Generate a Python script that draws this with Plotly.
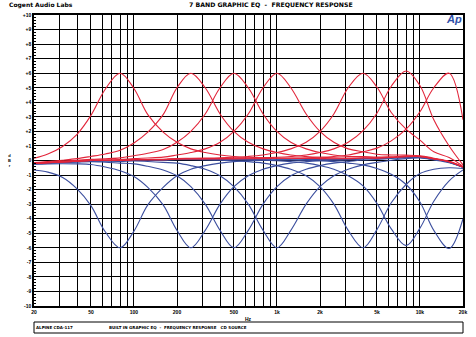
import plotly.graph_objects as go

# 1/3-octave frequency points (Hz)
freqs = [20, 25, 31.5, 40, 50, 63, 80, 100, 125, 160, 200, 250, 315, 400, 500, 630,
         800, 1000, 1250, 1600, 2000, 2500, 3150, 4000, 5000, 6300, 8000, 10000,
         12500, 16000, 20000]

# Band boost responses (dBr), one list per EQ band
boost_80 = [0.15, 0.45, 0.95, 1.8, 3.1, 4.9, 6.0, 4.95, 3.15, 1.95, 1.25, 0.8, 0.55, 0.38, 0.28, 0.22,
            0.18, 0.16, 0.15, 0.14, 0.13, 0.12, 0.12, 0.17, 0.16, 0.21, 0.26, 0.26, 0.11, -0.09, -0.45]
boost_250 = [-0.14, -0.07, 0.02, 0.13, 0.28, 0.45, 0.7, 1.2, 1.95, 3.15, 5.0, 6.0, 5.0, 3.2, 2.0, 1.25,
             0.8, 0.55, 0.38, 0.28, 0.22, 0.18, 0.16, 0.19, 0.18, 0.22, 0.27, 0.27, 0.12, -0.09, -0.45]
boost_500 = [-0.17, -0.11, -0.05, 0.01, 0.08, 0.12, 0.18, 0.33, 0.5, 0.75, 1.25, 2.0, 3.2, 5.0, 6.0, 5.0,
             3.2, 2.0, 1.25, 0.8, 0.55, 0.38, 0.28, 0.27, 0.23, 0.26, 0.3, 0.29, 0.13, -0.08, -0.45]
boost_1k = [-0.18, -0.13, -0.08, -0.02, 0.04, 0.05, 0.06, 0.13, 0.17, 0.23, 0.38, 0.55, 0.8, 1.25, 2.0, 3.2,
            5.0, 6.0, 5.0, 3.2, 2.0, 1.25, 0.8, 0.6, 0.43, 0.38, 0.37, 0.33, 0.16, -0.05, -0.43]
boost_4k = [-0.2, -0.15, -0.1, -0.05, 0.01, 0.01, 0.01, 0.07, 0.07, 0.08, 0.14, 0.15, 0.16, 0.18, 0.22, 0.28,
            0.38, 0.55, 0.8, 1.25, 2.0, 3.2, 5.0, 6.0, 5.05, 3.3, 2.15, 1.4, 0.6, 0.2, -0.4]
boost_8k = [-0.2, -0.15, -0.1, -0.05, 0.0, 0.0, 0.0, 0.05, 0.05, 0.06, 0.11, 0.12, 0.13, 0.14, 0.15, 0.16,
            0.18, 0.22, 0.28, 0.38, 0.55, 0.8, 1.25, 2.05, 3.25, 5.1, 6.15, 5.15, 2.8, 1.0, -0.3]
boost_16k = [-0.2, -0.15, -0.1, -0.05, 0.0, 0.0, 0.0, 0.05, 0.05, 0.05, 0.1, 0.1, 0.1, 0.11, 0.11, 0.12,
             0.13, 0.15, 0.16, 0.18, 0.22, 0.28, 0.38, 0.6, 0.85, 1.35, 2.15, 3.35, 5.0, 6.0, 2.8]

# Band cut responses (dBr)
cut_80 = [-0.65, -0.8, -1.15, -1.95, -3.1, -4.9, -6.0, -4.85, -3.05, -1.85, -1.05, -0.6, -0.35, -0.18, -0.08, -0.02,
          0.02, 0.04, 0.05, 0.06, 0.07, 0.08, 0.08, 0.13, 0.14, 0.19, 0.24, 0.24, 0.09, -0.11, -0.46]
cut_250 = [-0.26, -0.23, -0.22, -0.23, -0.28, -0.45, -0.7, -1.1, -1.85, -3.05, -4.8, -6.0, -4.8, -3.0, -1.8, -1.05,
           -0.6, -0.35, -0.18, -0.08, -0.02, 0.02, 0.04, 0.11, 0.12, 0.18, 0.23, 0.24, 0.09, -0.11, -0.46]
cut_500 = [-0.23, -0.19, -0.15, -0.11, -0.08, -0.12, -0.18, -0.23, -0.4, -0.65, -1.05, -1.8, -3.0, -4.8, -6.0, -4.8,
           -3.0, -1.8, -1.05, -0.6, -0.35, -0.18, -0.08, 0.03, 0.07, 0.14, 0.2, 0.21, 0.07, -0.12, -0.46]
cut_1k = [-0.22, -0.17, -0.12, -0.08, -0.04, -0.05, -0.06, -0.03, -0.07, -0.13, -0.18, -0.35, -0.6, -1.05, -1.8, -3.0,
          -4.8, -6.0, -4.8, -3.0, -1.8, -1.05, -0.6, -0.3, -0.13, 0.02, 0.13, 0.17, 0.04, -0.15, -0.47]
cut_4k = [-0.2, -0.15, -0.1, -0.05, -0.01, -0.01, -0.01, 0.03, 0.03, 0.02, 0.06, 0.05, 0.04, 0.02, -0.02, -0.08,
          -0.18, -0.35, -0.6, -1.05, -1.8, -3.0, -4.8, -6.0, -4.75, -2.9, -1.65, -0.9, -0.6, -0.5, -0.55]
cut_8k = [-0.2, -0.15, -0.1, -0.05, 0.0, 0.0, 0.0, 0.05, 0.05, 0.04, 0.08, 0.08, 0.07, 0.06, 0.05, 0.04,
          0.02, -0.02, -0.08, -0.18, -0.35, -0.6, -1.05, -1.75, -2.95, -4.7, -5.85, -4.65, -2.8, -1.4, -0.65]
cut_16k = [-0.2, -0.15, -0.1, -0.05, 0.0, 0.0, 0.0, 0.05, 0.05, 0.05, 0.1, 0.1, 0.1, 0.09, 0.09, 0.08,
           0.07, 0.05, 0.04, 0.02, -0.02, -0.08, -0.18, -0.3, -0.55, -0.95, -1.65, -2.85, -4.8, -6.05, -4.0]

boost_curves = [boost_80, boost_250, boost_500, boost_1k, boost_4k, boost_8k, boost_16k]
cut_curves = [cut_80, cut_250, cut_500, cut_1k, cut_4k, cut_8k, cut_16k]

# Axis ticks
x_grid = [20, 30, 40, 50, 60, 70, 80, 90, 100, 200, 300, 400, 500, 600, 700, 800, 900,
          1000, 2000, 3000, 4000, 5000, 6000, 7000, 8000, 9000, 10000, 20000]
x_labels = {20: "20", 50: "50", 100: "100", 200: "200", 500: "500", 1000: "1k",
            2000: "2k", 5000: "5k", 10000: "10k", 20000: "20k"}
y_ticks = list(range(-10, 11))
y_labels = [("+%d" % v if v > 0 else str(v)) for v in y_ticks]

RED = "#e2253a"
BLUE = "#3b4e9e"
FONT = "Liberation Sans"
HEAD = "DejaVu Sans"

fig = go.Figure()
for ys in cut_curves:
    fig.add_trace(go.Scatter(x=freqs, y=ys, mode="lines",
                             line=dict(color=BLUE, width=1.1, shape="spline", smoothing=1.0),
                             hoverinfo="skip"))
for ys in boost_curves:
    fig.add_trace(go.Scatter(x=freqs, y=ys, mode="lines",
                             line=dict(color=RED, width=1.1, shape="spline", smoothing=1.0),
                             hoverinfo="skip"))

fig.update_layout(
    width=476, height=337,
    margin=dict(l=34, r=9, t=15, b=31),
    paper_bgcolor="white", plot_bgcolor="white",
    showlegend=False,
    font=dict(family=FONT, color="black", size=5),
)

fig.update_xaxes(
    type="log", range=[1.30103, 4.30103],
    tickvals=x_grid, ticktext=["<b>%s</b>" % x_labels.get(v, "") for v in x_grid],
    showgrid=True, gridcolor="black", gridwidth=1.2,
    showline=True, linecolor="black", linewidth=1.5, mirror=True,
    ticks="", tickfont=dict(family=FONT, size=5, color="black"),
    zeroline=False,
)
fig.update_yaxes(
    range=[-10, 10],
    tickvals=y_ticks, ticktext=["<b>%s</b>" % t for t in y_labels],
    showgrid=True, gridcolor="black", gridwidth=1.2,
    showline=True, linecolor="black", linewidth=1.5, mirror=True,
    ticks="inside", ticklen=4, tickcolor="black",
    minor=dict(dtick=0.2, ticks="inside", ticklen=2.5, tickcolor="black", showgrid=False),
    tickfont=dict(family=FONT, size=5, color="black"),
    zeroline=False,
)

ann = dict(xref="paper", yref="paper", showarrow=False, font=dict(family=HEAD, size=6, color="black"))
annotations = [
    dict(ann, x=-0.062, y=1.035, xanchor="left", yanchor="middle", text="<b>Cogent Audio Labs</b>"),
    dict(ann, x=0.356, y=1.035, xanchor="left", yanchor="middle",
         text="<b>7 BAND GRAPHIC EQ  -  FREQUENCY RESPONSE</b>",
         font=dict(family=HEAD, size=6.2, color="black")),
    dict(ann, x=0.978, y=0.985, xanchor="center", yanchor="middle",
         text="<b><i>Ap</i></b>", font=dict(family=FONT, size=11, color="#2f4ea8")),
    dict(ann, x=-0.056, y=0.5, xanchor="center", yanchor="middle",
         text="<b>d<br>B<br>r</b>", font=dict(family=FONT, size=4, color="black")),
    dict(ann, x=0.50, y=-0.045, xanchor="center", yanchor="middle", text="<b>Hz</b>",
         font=dict(family=FONT, size=5, color="black")),
    dict(ann, x=0.0, y=-0.074, xanchor="left", yanchor="middle",
         text="<b>ALPINE CDA-117</b>", font=dict(family=HEAD, size=4, color="black")),
    dict(ann, x=0.17, y=-0.074, xanchor="left", yanchor="middle",
         text="<b>BUILT IN GRAPHIC EQ  -  FREQUENCY RESPONSE   CD SOURCE</b>",
         font=dict(family=HEAD, size=4, color="black")),
]
fig.update_layout(annotations=annotations)

fig.add_shape(type="rect", xref="paper", yref="paper",
              x0=0, x1=1, y0=-0.0928, y1=-0.055,
              line=dict(color="black", width=1), fillcolor="rgba(0,0,0,0)")

fig.write_html("out.html")
